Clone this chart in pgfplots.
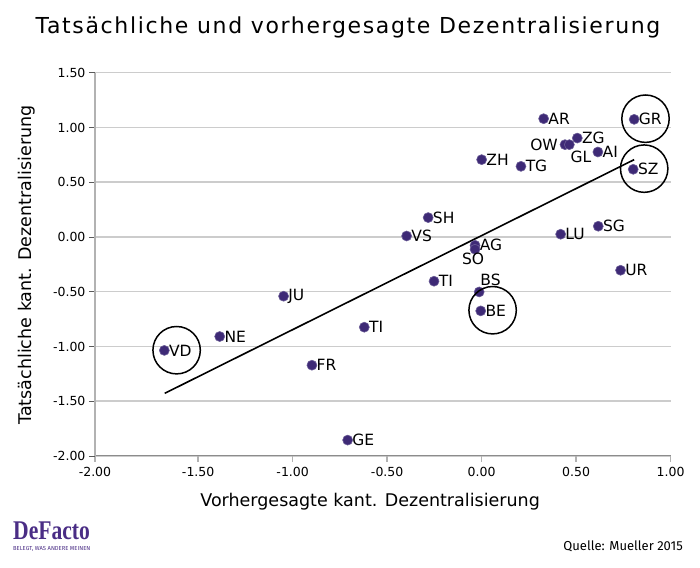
\documentclass[border=0pt]{standalone}
\usepackage{graphicx}
\usepackage{pgfplots}
\pgfplotsset{compat=1.18}
\usepackage{pgfplotstable}
\usepackage{fontspec}
\setmainfont{DejaVu Sans}
\newfontfamily\titlefont[LetterSpace=7.5]{DejaVu Sans}
\newfontfamily\notefont{Fira Sans}
\newfontfamily\logofont{Liberation Serif}

\definecolor{dotcol}{HTML}{3E2A76}
\definecolor{dotedge}{HTML}{6A5C96}
\definecolor{logocol}{HTML}{4A2D85}
\definecolor{gridcol}{HTML}{CCCCCC}

% x = predicted, y = actual decentralisation
\pgfplotstableread{
x      y       lab
0.328  1.080   AR
0.807  1.074   GR
0.506  0.903   ZG
0.441  0.843   {}
0.464  0.843   {}
0.615  0.776   AI
0.000  0.706   ZH
0.208  0.645   TG
0.802  0.618   SZ
-0.283 0.177   SH
-0.397 0.009   VS
0.418  0.025   LU
0.617  0.098   SG
-0.035 -0.076  AG
-0.035 -0.112  {}
0.735  -0.304  UR
-0.252 -0.404  TI
-0.013 -0.502  {}
-0.005 -0.675  BE
-1.048 -0.541  JU
-1.386 -0.909  NE
-1.679 -1.036  VD
-0.621 -0.824  TI
-0.898 -1.171  FR
-0.709 -1.855  GE
}\cantons

\begin{document}
\begin{tikzpicture}
\begin{axis}[
  scale only axis, width=575.7pt, height=383.3pt,
  xmin=-2.046, xmax=1, ymin=-2, ymax=1.5,
  xtick={-2.046,-1.5,-1,-0.5,0,0.5,1},
  xticklabels={-2.00,-1.50,-1.00,-0.50,0.00,0.50,1.00},
  ytick={-2,-1.5,-1,-0.5,0,0.5,1,1.5},
  axis x line*=bottom, axis y line*=left,
  x axis line style={draw=black!45, line width=1pt},
  y axis line style={draw=black!30, line width=1.5pt},
  tick align=outside, major tick length=6pt,
  x tick style={draw=black!30, line width=1.5pt},
  y tick style={draw=black!65, line width=0.8pt},
  ymajorgrids, grid style={draw=gridcol, line width=1.5pt},
  tick label style={font=\fontsize{12.5}{15}\selectfont},
  xticklabel style={yshift=-2pt},
  /pgf/number format/assume math mode=true,
  /pgf/number format/.cd, fixed, fixed zerofill, precision=2, /pgfplots/.cd,
  xlabel={Vorhergesagte kant. Dezentralisierung},
  ylabel={Tatsächliche kant. Dezentralisierung},
  label style={font=\fontsize{17.5}{20}\selectfont},
  xlabel style={at={(axis description cs:0.478,-0.12)}, anchor=center},
  ylabel style={at={(axis description cs:-0.118,0.498)}, anchor=center},
  clip=false,
]
\addplot[black, line width=1.6pt] coordinates {(-1.677,-1.428) (0.807,0.706)};
\addplot[only marks, mark=*, mark size=5pt,
  mark options={fill=dotcol, draw=dotedge, line width=0.6pt},
  point meta=explicit symbolic,
  nodes near coords,
  every node near coord/.style={anchor=west, font=\fontsize{15.5}{18}\selectfont, inner sep=1pt, xshift=3.5pt}]
  table[x=x, y=y, meta=lab] {\cantons};
% labels that do not sit to the right of their dot
\addplot[draw=none, mark=none, point meta=explicit symbolic, nodes near coords,
  every node near coord/.style={anchor=east, font=\fontsize{15.5}{18}\selectfont, inner sep=1pt, xshift=-6pt}]
  coordinates {(0.441,0.843) [OW]};
\addplot[draw=none, mark=none, point meta=explicit symbolic, nodes near coords,
  every node near coord/.style={anchor=north west, font=\fontsize{15.5}{18}\selectfont, inner sep=1pt, yshift=-5pt}]
  coordinates {(0.464,0.843) [GL]};
\addplot[draw=none, mark=none, point meta=explicit symbolic, nodes near coords,
  every node near coord/.style={anchor=north, font=\fontsize{15.5}{18}\selectfont, inner sep=1pt, yshift=-3pt, xshift=-2pt}]
  coordinates {(-0.035,-0.112) [SO]};
\addplot[draw=none, mark=none, point meta=explicit symbolic, nodes near coords,
  every node near coord/.style={anchor=south west, font=\fontsize{15.5}{18}\selectfont, inner sep=1pt, yshift=5pt}]
  coordinates {(-0.013,-0.502) [BS]};
% highlighted cantons
\addplot[only marks, mark=o, mark size=23.7pt, mark options={draw=black, line width=1.5pt}]
  coordinates {(-1.614,-1.034) (0.867,1.080) (0.860,0.624) (0.058,-0.669)};
% title, logo and source around the axis
\node[font=\titlefont\fontsize{22}{26}\selectfont] at (axis description cs:0.4395,1.1193) {Tatsächliche und vorhergesagte Dezentralisierung};
\node[anchor=base west, inner sep=0, text=logocol] at (axis description cs:-0.1424,-0.2192) {\scalebox{0.8}[1]{\logofont\bfseries\fontsize{27}{30}\selectfont DeFacto}};
\node[anchor=base west, inner sep=0, font=\notefont\fontsize{5.8}{6}\selectfont, text=logocol] at (axis description cs:-0.1424,-0.2467) {BELEGT, WAS ANDERE MEINEN};
\node[anchor=base east, inner sep=0, font=\notefont\fontsize{13}{15}\selectfont] at (axis description cs:1.0214,-0.2467) {Quelle: Mueller 2015};
\path (axis description cs:-0.165,-0.2922) rectangle (axis description cs:1.051,1.1897);
\end{axis}
\end{tikzpicture}
\end{document}
